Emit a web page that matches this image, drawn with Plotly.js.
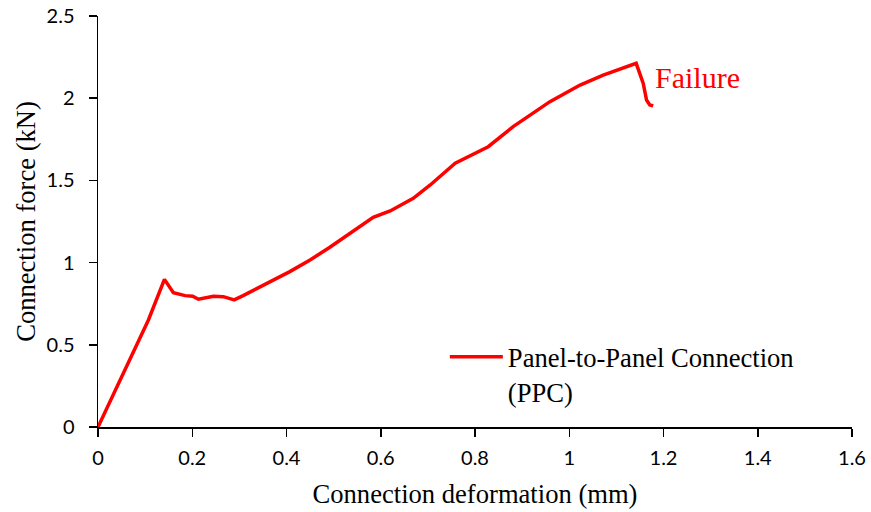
<!DOCTYPE html>
<html>
<head>
<meta charset="utf-8">
<script src="https://cdn.plot.ly/plotly-3.0.1.min.js"></script>
<style>html,body{margin:0;padding:0;background:#fff;}#chart{width:871px;height:512px;}</style>
</head>
<body>
<div id="chart"></div>
<script>
// Connection deformation (mm)
const deformation = [0, 0.107, 0.141, 0.150, 0.160, 0.185, 0.201, 0.213, 0.227, 0.245, 0.266, 0.289, 0.308, 0.351, 0.407, 0.450, 0.492, 0.584, 0.620, 0.669, 0.705, 0.758, 0.789, 0.828, 0.881, 0.959, 1.023, 1.072, 1.142, 1.157, 1.164, 1.171, 1.178];
// Connection force (kN)
const force = [0, 0.651, 0.898, 0.860, 0.817, 0.799, 0.795, 0.777, 0.787, 0.795, 0.793, 0.773, 0.799, 0.864, 0.945, 1.016, 1.093, 1.275, 1.314, 1.391, 1.472, 1.604, 1.648, 1.705, 1.827, 1.979, 2.080, 2.141, 2.212, 2.090, 1.989, 1.959, 1.953];
const seriesName = 'Panel-to-Panel Connection<br>(PPC)';
const xTitle = 'Connection deformation (mm)';
const yTitle = 'Connection force (kN)';
const failureLabel = 'Failure';
const failurePoint = [1.272, 2.123];

const serif = 'Liberation Serif, Times New Roman, serif';
const sans = 'Lato, Open Sans, sans-serif';

const trace = {
  x: deformation, y: force, type: 'scatter', mode: 'lines', name: seriesName,
  line: {color: '#FF0000', width: 3.5}
};

const axisCommon = {
  showgrid: false, zeroline: false, showline: true, linecolor: '#000', linewidth: 1.5,
  ticks: 'outside', ticklen: 8, tickwidth: 1.5, tickcolor: '#000',
  tickfont: {family: sans, size: 20, color: '#000'}
};

const layout = {
  width: 871, height: 512,
  margin: {l: 98, r: 19, t: 16, b: 85},
  paper_bgcolor: '#fff', plot_bgcolor: '#fff',
  xaxis: Object.assign({}, axisCommon, {
    range: [0, 1.6], dtick: 0.2, tick0: 0, ticklabelstandoff: 4,
    title: {text: xTitle, font: {family: serif, size: 26.6, color: '#000'}, standoff: 17}
  }),
  yaxis: Object.assign({}, axisCommon, {
    range: [0, 2.5], dtick: 0.5, tick0: 0, ticklabelstandoff: 10,
    title: {text: yTitle, font: {family: serif, size: 26.6, color: '#000'}, standoff: 3}
  }),
  showlegend: true,
  legend: {
    x: 0.46, y: 0.128, xanchor: 'left', yanchor: 'middle',
    bgcolor: 'rgba(0,0,0,0)', valign: 'top', itemwidth: 53,
    font: {family: serif, size: 26.6, color: '#000'}
  },
  annotations: [{
    x: failurePoint[0], y: failurePoint[1], xref: 'x', yref: 'y',
    text: failureLabel, showarrow: false,
    font: {family: serif, size: 30, color: '#FF0000'}
  }]
};

Plotly.newPlot('chart', [trace], layout, {displayModeBar: false, staticPlot: true});
</script>
</body>
</html>
